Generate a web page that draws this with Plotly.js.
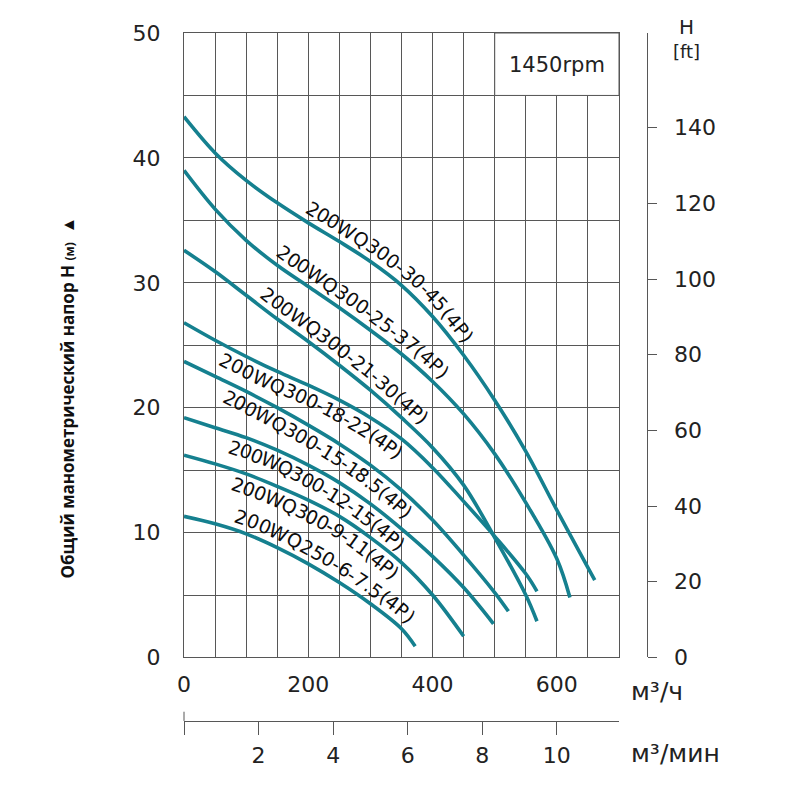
<!DOCTYPE html>
<html>
<head>
<meta charset="utf-8">
<script src="https://cdn.plot.ly/plotly-3.0.1.min.js"></script>
<style>
  body { margin: 0; background: #fff; }
  #plotly__graph { width: 800px; height: 800px; }
</style>
</head>
<body>
<div id="plotly__graph"></div>
<script>
// **********************************************************************************************
// DATA  (Q in m3/h, H in m)

const models = [
    '200WQ300-30-45(4P)',
    '200WQ300-25-37(4P)',
    '200WQ300-21-30(4P)',
    '200WQ300-18-22(4P)',
    '200WQ300-15-18.5(4P)',
    '200WQ300-12-15(4P)',
    '200WQ300-9-11(4P)',
    '200WQ250-6-7.5(4P)'
];

const flow_30_45 = [0, 50, 100, 150, 200, 250, 300, 350, 400, 450, 500, 550, 600, 650, 661];
const head_30_45 = [43.3, 40.4, 38.2, 36.4, 34.8, 33.3, 31.7, 29.8, 27.3, 24.2, 20.6, 16.5, 11.8, 7.2, 6.2];

const flow_25_37 = [0, 50, 100, 150, 200, 250, 300, 350, 400, 450, 500, 550, 600, 621];
const head_25_37 = [39.0, 35.9, 33.4, 31.4, 29.7, 28.0, 26.2, 24.3, 22.1, 19.5, 16.3, 12.4, 7.9, 4.8];

const flow_21_30 = [0, 50, 100, 150, 200, 250, 300, 350, 400, 450, 500, 550, 568];
const head_21_30 = [32.6, 30.9, 29.0, 27.1, 25.3, 23.4, 21.4, 19.2, 16.8, 13.8, 9.6, 5.0, 2.9];

const flow_18_22 = [0, 50, 100, 150, 200, 250, 300, 350, 400, 450, 500, 550, 568];
const head_18_22 = [26.8, 25.4, 24.1, 22.9, 21.8, 20.6, 19.2, 17.5, 15.2, 12.5, 9.7, 6.7, 5.3];

const flow_15_18 = [0, 50, 100, 150, 200, 250, 300, 350, 400, 450, 500, 522];
const head_15_18 = [23.7, 22.5, 21.3, 20.0, 18.6, 17.1, 15.4, 13.4, 11.0, 8.2, 5.2, 3.7];

const flow_12_15 = [0, 50, 100, 150, 200, 250, 300, 350, 400, 450, 498];
const head_12_15 = [19.2, 18.4, 17.6, 16.6, 15.4, 14.0, 12.3, 10.3, 8.1, 5.6, 2.7];

const flow_9_11 = [0, 50, 100, 150, 200, 250, 300, 350, 400, 450];
const head_9_11 = [16.2, 15.5, 14.7, 13.7, 12.6, 11.3, 9.6, 7.6, 5.0, 1.7];

const flow_6_75 = [0, 50, 100, 150, 200, 250, 300, 350, 372];
const head_6_75 = [11.3, 10.7, 9.9, 8.8, 7.5, 6.0, 4.3, 2.3, 0.9];

// each model name runs along its own curve: where it starts (Q) and on which side
const label_start_flow = [187, 140, 114, 69, 74, 79, 85, 75];
const label_side = ['above', 'above', 'above', 'below', 'below', 'below', 'below', 'above'];

const x_ticks_m3h = [0, 200, 400, 600];
const x_ticks_m3min = [0, 2, 4, 6, 8, 10];
const y_ticks_m = [0, 10, 20, 30, 40, 50];
const y_ticks_ft = [0, 20, 40, 60, 80, 100, 120, 140];

const plotly_graph = () => {
    // **********************************************************************************************
    // PARENT / CHILD

    const div = document.getElementById('plotly__graph');

    const curve_color = '#15808f';
    const grid_color = '#575757';
    const num_font = 'DejaVu Sans, sans-serif';
    const label_size = 19;

    // plot box, same numbers as the layout below
    const W = 800, H = 800;
    const margin = { t: 33, r: 153, b: 60, l: 184 };
    const x_domain = [0, 0.9395];
    const y_domain = [0.1167, 1];
    const x_range = [0, 700];
    const y_range = [0, 50];

    const plot_w = W - margin.l - margin.r;
    const plot_h = H - margin.t - margin.b;
    const px_left = margin.l + x_domain[0] * plot_w;
    const px_right = margin.l + x_domain[1] * plot_w;
    const px_bottom = margin.t + (1 - y_domain[0]) * plot_h;
    const px_top = margin.t + (1 - y_domain[1]) * plot_h;

    const to_px = (q, h) => [
        px_left + (q - x_range[0]) / (x_range[1] - x_range[0]) * (px_right - px_left),
        px_bottom - (h - y_range[0]) / (y_range[1] - y_range[0]) * (px_bottom - px_top)
    ];
    const to_data = (x, y) => [
        x_range[0] + (x - px_left) / (px_right - px_left) * (x_range[1] - x_range[0]),
        y_range[0] + (px_bottom - y) / (px_bottom - px_top) * (y_range[1] - y_range[0])
    ];

    // **********************************************************************************************
    // TRACES

    const flows = [flow_30_45, flow_25_37, flow_21_30, flow_18_22, flow_15_18, flow_12_15, flow_9_11, flow_6_75];
    const heads = [head_30_45, head_25_37, head_21_30, head_18_22, head_15_18, head_12_15, head_9_11, head_6_75];

    let data = models.map((name, i) => ({
        name: name,
        type: 'scatter',
        mode: 'lines',
        x: flows[i],
        y: heads[i],
        line: { color: curve_color, width: 3.6, shape: 'spline', smoothing: 1 },
        hoverinfo: 'skip',
        showlegend: false
    }));

    // dummy traces so the second scales get drawn
    data.push({ x: [0], y: [0], xaxis: 'x2', yaxis: 'y', mode: 'lines', showlegend: false, hoverinfo: 'skip' });
    data.push({ x: [0], y: [0], xaxis: 'x', yaxis: 'y2', mode: 'lines', showlegend: false, hoverinfo: 'skip' });

    // **********************************************************************************************
    // CURVED LABELS
    // rebuild the spline plotly draws (same tangent rule) and walk the text along it

    const make_tangent = (p0, p1, p2) => {
        const d1x = p0[0] - p1[0], d1y = p0[1] - p1[1];
        const d2x = p2[0] - p1[0], d2y = p2[1] - p1[1];
        const d1a = Math.pow(d1x * d1x + d1y * d1y, 0.25);
        const d2a = Math.pow(d2x * d2x + d2y * d2y, 0.25);
        const numx = d2a * d2a * d1x - d1a * d1a * d2x;
        const numy = d2a * d2a * d1y - d1a * d1a * d2y;
        const den1 = 3 * d2a * (d1a + d2a);
        const den2 = 3 * d1a * (d1a + d2a);
        return [
            [p1[0] + numx / den1, p1[1] + numy / den1],
            [p1[0] - numx / den2, p1[1] - numy / den2]
        ];
    };

    const sample_spline = (pts) => {
        const n = pts.length;
        const tg = [];
        for (let i = 1; i < n - 1; i++) tg.push(make_tangent(pts[i - 1], pts[i], pts[i + 1]));
        const out = [pts[0]];
        const steps = 40;
        const quad = (a, c, b) => {
            for (let k = 1; k <= steps; k++) {
                const t = k / steps, u = 1 - t;
                out.push([u * u * a[0] + 2 * u * t * c[0] + t * t * b[0],
                          u * u * a[1] + 2 * u * t * c[1] + t * t * b[1]]);
            }
        };
        const cub = (a, c1, c2, b) => {
            for (let k = 1; k <= steps; k++) {
                const t = k / steps, u = 1 - t;
                out.push([u * u * u * a[0] + 3 * u * u * t * c1[0] + 3 * u * t * t * c2[0] + t * t * t * b[0],
                          u * u * u * a[1] + 3 * u * u * t * c1[1] + 3 * u * t * t * c2[1] + t * t * t * b[1]]);
            }
        };
        quad(pts[0], tg[0][0], pts[1]);
        for (let i = 2; i < n - 1; i++) cub(pts[i - 1], tg[i - 2][1], tg[i - 1][0], pts[i]);
        quad(pts[n - 2], tg[n - 3][1], pts[n - 1]);
        return out;
    };

    const canvas = document.createElement('canvas');
    const ctx = canvas.getContext('2d');
    ctx.font = label_size + 'px "DejaVu Sans"';

    let annotations = [];

    models.forEach((name, i) => {
        const pts = flows[i].map((q, k) => to_px(q, heads[i][k]));
        const poly = sample_spline(pts);
        const cum = [0];
        for (let k = 1; k < poly.length; k++) {
            cum.push(cum[k - 1] + Math.hypot(poly[k][0] - poly[k - 1][0], poly[k][1] - poly[k - 1][1]));
        }
        const at = (s) => {
            let k = 1;
            while (k < poly.length - 1 && cum[k] < s) k++;
            const f = (s - cum[k - 1]) / (cum[k] - cum[k - 1]);
            const a = poly[k - 1], b = poly[k];
            return [a[0] + (b[0] - a[0]) * f, a[1] + (b[1] - a[1]) * f, Math.atan2(b[1] - a[1], b[0] - a[0])];
        };

        // arc position where the label begins
        const x_start = to_px(label_start_flow[i], 0)[0];
        let s = 0;
        for (let k = 1; k < poly.length; k++) {
            if (poly[k][0] >= x_start) {
                const f = (x_start - poly[k - 1][0]) / (poly[k][0] - poly[k - 1][0]);
                s = cum[k - 1] + f * (cum[k] - cum[k - 1]);
                break;
            }
        }

        const side = label_side[i] === 'above' ? 1 : -1;
        const gap = side > 0 ? 14 : 13;
        for (const ch of name) {
            const w = ctx.measureText(ch).width;
            const [cx, cy, ang] = at(s + w / 2);
            const ox = cx + side * gap * Math.sin(ang);
            const oy = cy - side * gap * Math.cos(ang);
            const [q, h] = to_data(ox, oy);
            annotations.push({
                text: ch, x: q, y: h, xref: 'x', yref: 'y',
                xanchor: 'center', yanchor: 'middle', showarrow: false,
                textangle: ang * 180 / Math.PI, borderpad: 0,
                font: { family: num_font, size: label_size, color: '#0d0d0d' }
            });
            s += w;
        }
    });

    // **********************************************************************************************
    // OTHER TEXT

    // ft scale labels, placed on the ft axis
    y_ticks_ft.forEach(v => annotations.push({
        text: String(v), x: 1.054, y: v, xref: 'paper', yref: 'y2',
        xanchor: 'left', yanchor: 'middle', showarrow: false,
        font: { family: num_font, size: 22, color: '#222' }
    }));

    annotations.push(
        { text: '1450rpm', x: 600, y: 47.4, xref: 'x', yref: 'y', showarrow: false,
          font: { family: num_font, size: 21, color: '#222' } },
        { text: 'м³/ч', x: 0.961, y: 0.069, xref: 'paper', yref: 'paper', xanchor: 'left', yanchor: 'middle',
          showarrow: false, font: { family: num_font, size: 25, color: '#222' } },
        { text: 'м³/мин', x: 0.961, y: -0.019, xref: 'paper', yref: 'paper', xanchor: 'left', yanchor: 'middle',
          showarrow: false, font: { family: num_font, size: 25, color: '#222' } },
        { text: 'H', x: 1.086, y: 1.009, xref: 'paper', yref: 'paper', xanchor: 'center', yanchor: 'middle',
          showarrow: false, font: { family: num_font, size: 20, color: '#222' } },
        { text: '[ft]', x: 1.086, y: 0.974, xref: 'paper', yref: 'paper', xanchor: 'center', yanchor: 'middle',
          showarrow: false, font: { family: num_font, size: 18, color: '#222' } },
        { text: '<b>Общий манометрический напор H</b> <b><span style="font-size:12px">(м)</span></b>  ▲',
          x: -0.2505, y: 0.4844, xref: 'paper', yref: 'paper', xanchor: 'center', yanchor: 'middle',
          textangle: -90, showarrow: false,
          font: { family: 'Open Sans, sans-serif', size: 17, color: '#111' } }
    );

    // **********************************************************************************************
    // LAYOUT

    let layout = {
        width: W,
        height: H,
        margin: { t: margin.t, r: margin.r, b: margin.b, l: margin.l, pad: 0 },
        paper_bgcolor: '#fff',
        plot_bgcolor: '#fff',
        showlegend: false,
        dragmode: false,
        xaxis: {
            domain: x_domain,
            range: x_range,
            tickvals: x_ticks_m3h,
            ticks: '',
            ticklabelstandoff: 7,
            showgrid: true, gridcolor: grid_color, gridwidth: 1,
            minor: { dtick: 50, showgrid: true, gridcolor: grid_color, gridwidth: 1 },
            showline: true, linecolor: grid_color, linewidth: 1, mirror: true,
            zeroline: false,
            tickfont: { family: num_font, size: 22, color: '#222' }
        },
        xaxis2: {
            overlaying: 'x',
            anchor: 'free',
            position: 0.027,
            range: [0, 700 / 60],
            tickvals: x_ticks_m3min,
            ticktext: x_ticks_m3min.map(v => v === 0 ? '' : String(v)),
            ticks: 'outside', ticklen: 13, tickcolor: grid_color,
            ticklabelstandoff: 2,
            showgrid: false, zeroline: false,
            showline: true, linecolor: grid_color, linewidth: 1,
            tickfont: { family: num_font, size: 22, color: '#222' }
        },
        yaxis: {
            domain: y_domain,
            range: y_range,
            tickvals: y_ticks_m,
            ticks: '',
            ticklabelstandoff: 18,
            showgrid: true, gridcolor: grid_color, gridwidth: 1,
            minor: { dtick: 5, showgrid: true, gridcolor: grid_color, gridwidth: 1 },
            showline: true, linecolor: grid_color, linewidth: 1, mirror: true,
            zeroline: false,
            tickfont: { family: num_font, size: 22, color: '#222' }
        },
        yaxis2: {
            overlaying: 'y',
            side: 'right',
            anchor: 'free',
            position: 1,
            range: [0, 165],
            tickvals: y_ticks_ft,
            ticks: 'outside', ticklen: 9, tickcolor: grid_color,
            showticklabels: false,
            showgrid: false, zeroline: false,
            showline: true, linecolor: grid_color, linewidth: 1
        },
        shapes: [
            // blank box behind the speed note
            { type: 'rect', xref: 'x', yref: 'y', x0: 500, x1: 700, y0: 45, y1: 50,
              fillcolor: '#fff', line: { color: grid_color, width: 1 }, layer: 'between' },
            // up stroke at the start of the m3/min scale
            { type: 'line', xref: 'paper', yref: 'paper', x0: 0, x1: 0, y0: 0.027, y1: 0.04,
              line: { color: grid_color, width: 1 } }
        ],
        annotations: annotations
    };

    // **********************************************************************************************
    // CONFIG

    const config = {
        responsive: false,
        displaylogo: false,
        displayModeBar: false
    };

    // **********************************************************************************************
    // CREATE AND APPEND

    Plotly.newPlot(div, data, layout, config);
};

plotly_graph();
</script>
</body>
</html>
